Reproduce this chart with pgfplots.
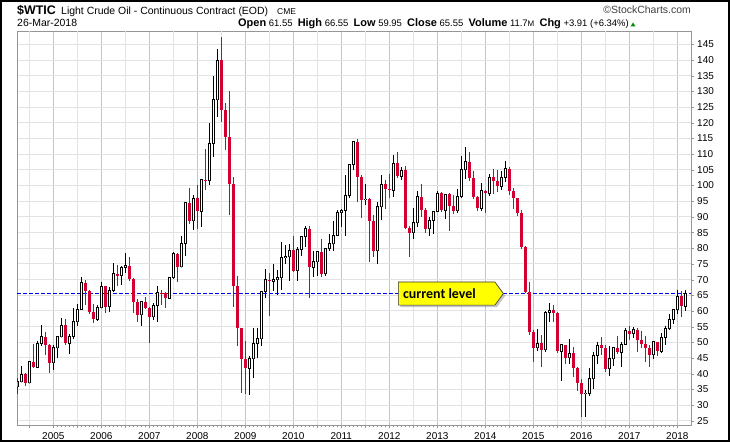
\documentclass[border=0pt]{standalone}
\usepackage{pgfplots}
\pgfplotsset{compat=1.18}
\usepackage{pgfplotstable}
\usepackage{fontspec}
\setmainfont{Liberation Sans}
\newfontfamily\calib{Carlito}
\usetikzlibrary{shadows}
\definecolor{cred}{RGB}{210,0,50}
\definecolor{gridlight}{RGB}{226,226,226}
\definecolor{griddark}{RGB}{196,196,196}
\definecolor{axisgray}{RGB}{150,150,150}
\definecolor{cyellow}{RGB}{255,255,0}
\definecolor{cgreen}{RGB}{0,140,0}
\definecolor{lvlblue}{RGB}{0,0,255}
\pgfplotsset{
  upc/.style={restrict expr to domain={\thisrow{u}}{0.5:1.5}},
  dnc/.style={restrict expr to domain={\thisrow{u}}{-0.5:0.5}},
  candle/.style={only marks, mark=*, mark size=0.01pt, mark options={draw=none, fill=none}, forget plot},
}
\pgfplotstableread{
m o h l c u
3 35.76 38.50 33.60 37.38 1
4 37.38 42.33 37.20 39.88 1
5 39.88 40.20 35.95 37.05 0
6 37.05 44.15 36.90 43.80 1
7 43.80 49.40 42.00 42.12 0
8 42.12 50.47 41.90 49.64 1
9 49.64 55.67 48.70 51.76 1
10 51.76 53.30 45.80 49.13 0
11 49.13 49.50 40.25 43.45 0
12 43.45 49.00 41.25 48.20 1
13 48.20 52.05 45.00 51.75 1
14 51.75 57.60 51.60 55.40 1
15 55.40 57.55 49.00 49.72 0
16 49.72 52.60 46.20 51.97 1
17 51.97 60.95 51.00 56.50 1
18 56.50 62.30 55.20 60.57 1
19 60.57 70.85 60.50 68.94 1
20 68.94 70.00 61.80 66.24 0
21 66.24 66.70 59.00 59.76 0
22 59.76 62.20 56.10 57.32 0
23 57.32 61.90 56.80 61.04 1
24 61.04 69.20 60.80 67.92 1
25 67.92 68.00 59.30 61.41 0
26 61.41 67.50 59.70 66.63 1
27 66.63 75.35 65.90 71.88 1
28 71.88 74.60 68.10 71.29 0
29 71.29 74.20 68.40 73.93 1
30 73.93 78.40 72.00 74.40 1
31 74.40 77.30 69.50 70.26 0
32 70.26 70.50 59.50 62.91 0
33 62.91 63.90 56.60 58.73 0
34 58.73 62.50 55.30 62.97 1
35 62.97 64.30 60.80 61.05 0
36 61.05 61.30 49.90 58.14 0
37 58.14 62.50 57.00 61.79 1
38 61.79 68.10 56.50 65.87 1
39 65.87 66.80 61.90 65.71 0
40 65.71 66.00 60.90 64.01 0
41 64.01 70.70 63.70 70.68 1
42 70.68 78.77 70.10 78.21 1
43 78.21 78.50 69.10 74.04 0
44 74.04 83.90 73.90 81.66 1
45 81.66 94.74 77.60 94.53 1
46 94.53 99.29 87.60 88.71 0
47 88.71 97.00 85.90 95.98 1
48 95.98 100.09 86.11 91.75 0
49 91.75 102.08 86.90 101.84 1
50 101.84 111.80 98.65 101.58 0
51 101.58 119.93 100.10 113.46 1
52 113.46 135.09 109.10 127.35 1
53 127.35 143.67 122.00 140.00 1
54 140.00 147.27 120.42 124.08 0
55 124.08 126.40 111.34 115.46 0
56 115.46 130.00 90.51 100.64 0
57 100.64 102.70 61.30 67.81 0
58 67.81 71.30 48.75 54.43 0
59 54.43 54.60 33.90 44.60 0
60 44.60 50.47 33.60 41.68 0
61 41.68 45.60 33.20 44.76 1
62 44.76 54.66 38.70 49.66 1
63 49.66 54.50 45.00 51.12 1
64 51.12 66.45 48.80 66.31 1
65 66.31 73.38 64.10 69.89 1
66 69.89 72.00 58.32 69.45 0
67 69.45 75.00 66.40 69.96 1
68 69.96 72.95 65.05 70.61 1
69 70.61 82.00 66.75 77.00 1
70 77.00 81.00 75.00 77.28 1
71 77.28 81.36 69.50 79.36 1
72 79.36 83.95 72.43 72.89 0
73 72.89 80.50 69.50 79.66 1
74 79.66 83.70 77.50 83.76 1
75 83.76 87.15 80.50 86.15 1
76 86.15 87.00 64.24 73.97 0
77 73.97 79.00 70.80 75.63 1
78 75.63 79.20 71.10 78.95 1
79 78.95 83.00 70.80 71.92 0
80 71.92 80.00 71.00 79.97 1
81 79.97 84.40 79.00 81.43 1
82 81.43 88.63 79.20 84.11 1
83 84.11 92.06 84.00 91.38 1
84 91.38 92.58 86.90 92.19 1
85 92.19 103.41 83.85 96.97 1
86 96.97 106.95 96.00 106.72 1
87 106.72 114.00 105.00 113.93 1
88 113.93 114.83 94.63 102.70 0
89 102.70 103.40 89.69 95.42 0
90 95.42 100.62 93.68 95.70 1
91 95.70 96.00 75.71 88.81 0
92 88.81 90.50 77.11 79.20 0
93 79.20 94.65 74.95 93.19 1
94 93.19 103.37 89.16 100.36 1
95 100.36 101.77 92.52 98.83 0
96 98.83 103.74 96.00 98.48 0
97 98.48 109.77 96.30 107.07 1
98 107.07 110.55 102.50 103.02 0
99 103.02 106.05 101.80 104.87 1
100 104.87 106.17 86.30 86.53 0
101 86.53 87.00 77.28 84.96 0
102 84.96 92.94 83.00 88.06 1
103 88.06 98.29 86.80 96.47 1
104 96.47 100.42 89.95 92.19 0
105 92.19 92.94 84.95 86.24 0
106 86.24 89.90 84.05 88.91 1
107 88.91 91.90 84.70 91.82 1
108 91.82 98.24 91.60 97.49 1
109 97.49 97.80 91.70 92.05 0
110 92.05 97.35 89.33 97.23 1
111 97.23 97.65 85.61 93.46 0
112 93.46 97.06 91.00 91.97 0
113 91.97 99.00 91.10 96.56 1
114 96.56 109.32 95.90 105.03 1
115 105.03 112.24 102.20 107.65 1
116 107.65 110.70 101.55 102.33 0
117 102.33 104.50 95.79 96.38 0
118 96.38 96.60 91.77 92.72 0
119 92.72 100.75 91.90 98.42 1
120 98.42 98.70 91.24 97.49 0
121 97.49 103.76 96.70 102.59 1
122 102.59 105.22 97.37 101.58 0
123 101.58 104.99 98.00 99.74 0
124 99.74 104.50 98.50 102.71 1
125 102.71 107.68 101.25 105.37 1
126 105.37 106.00 97.00 98.17 0
127 98.17 99.30 92.50 95.96 0
128 95.96 96.00 90.43 91.16 0
129 91.16 92.21 79.78 80.54 0
130 80.54 80.80 65.69 66.15 0
131 66.15 69.30 52.44 53.27 0
132 53.27 54.00 43.58 48.24 0
133 48.24 54.24 47.36 49.76 1
134 49.76 52.48 42.03 47.60 0
135 47.60 59.90 47.05 59.63 1
136 59.63 62.58 56.51 60.30 1
137 60.30 61.79 56.53 59.47 0
138 59.47 59.69 46.68 47.12 0
139 47.12 49.34 37.75 49.20 1
140 49.20 49.30 43.21 45.09 0
141 45.09 50.92 43.20 46.59 1
142 46.59 48.36 38.99 41.65 0
143 41.65 41.99 34.53 37.04 0
144 37.04 38.39 26.19 33.62 0
145 33.62 34.69 26.05 33.75 1
146 33.75 41.90 32.78 38.34 1
147 38.34 46.78 35.24 45.92 1
148 45.92 50.21 43.03 49.10 1
149 49.10 51.67 45.83 48.33 0
150 48.33 49.06 40.57 41.60 0
151 41.60 48.75 39.19 44.70 1
152 44.70 48.35 42.52 48.24 1
153 48.24 51.93 46.33 46.86 0
154 46.86 49.96 42.20 49.44 1
155 49.44 54.51 49.03 53.72 1
156 53.72 55.24 50.71 52.81 0
157 52.81 54.94 51.22 54.01 1
158 54.01 54.49 47.01 50.60 0
159 50.60 53.76 48.18 49.33 0
160 49.33 52.00 43.76 48.32 0
161 48.32 48.99 42.05 46.04 0
162 46.04 50.43 44.68 50.17 1
163 50.17 50.22 45.58 47.23 0
164 47.23 52.86 46.46 51.67 1
165 51.67 55.22 49.10 54.38 1
166 54.38 59.05 53.90 57.40 1
167 57.40 60.51 55.82 60.42 1
168 60.42 66.66 59.08 64.73 1
169 64.73 66.30 58.07 61.64 0
170 61.55 66.55 59.95 65.55 1
}\wtic
\begin{document}
\begin{tikzpicture}[x=1bp,y=1bp]
\useasboundingbox (0,0) rectangle (730,442);
\fill[white] (0,0) rectangle (730,442);
% header
\node[anchor=base west, inner sep=0] at (17,427) {\fontsize{12.5}{14}\selectfont\bfseries \$WTIC};
\node[anchor=base west, inner sep=0] at (61,427) {\fontsize{10.5}{12}\selectfont Light Crude Oil - Continuous Contract (EOD)};
\node[anchor=base west, inner sep=0] at (277,427) {\fontsize{8.5}{10}\selectfont CME};
\node[anchor=base east, inner sep=0, text=black!75] at (691,428) {\fontsize{10.5}{12}\selectfont ©StockCharts.com};
\node[anchor=base west, inner sep=0] at (17,415) {\fontsize{10.5}{12}\selectfont 26-Mar-2018};
\node[anchor=base east, inner sep=0] at (629,415) {\fontsize{9.5}{11}\selectfont
  {\fontsize{11}{12}\selectfont\bfseries Open} 61.55\ \ {\fontsize{11}{12}\selectfont\bfseries High} 66.55\ \ {\fontsize{11}{12}\selectfont\bfseries Low} 59.95\ \ {\fontsize{11}{12}\selectfont\bfseries Close} 65.55\ \ {\fontsize{11}{12}\selectfont\bfseries Volume} 11.7{\fontsize{8}{10}\selectfont M}\ \ {\fontsize{11}{12}\selectfont\bfseries Chg} +3.91 (+6.34\%)};
\fill[cgreen] (630.5,415.5) -- (635.5,415.5) -- (633,419.5) -- cycle;
\begin{axis}[
  at={(17.3bp,16.5bp)}, anchor=south west,
  scale only axis, width=673.4bp, height=394.5bp,
  xmin=3, xmax=171.35, ymin=23.47, ymax=149.3,
  axis line style={axisgray},
  tick style={axisgray},
  tick align=outside,
  xtick pos=bottom, ytick pos=right,
  yticklabel pos=right,
  xtick={12,24,36,48,60,72,84,96,108,120,132,144,156,168},
  xticklabels={2005,2006,2007,2008,2009,2010,2011,2012,2013,2014,2015,2016,2017,2018},
  minor x tick num=11,
  major tick length=3bp, minor tick length=2bp,
  extra x ticks={6,18,30,42,54,66,78,90,102,114,126,138,150,162},
  extra x tick labels={},
  extra x tick style={grid=major, major grid style={gridlight, line width=1bp}},
  ytick={25,30,...,145},
  xmajorgrids, ymajorgrids,
  major grid style={griddark, line width=1bp},
  y grid style={gridlight, line width=1bp},
  extra y ticks={65.55},
  extra y tick labels={},
  extra y tick style={ymajorgrids=true, major tick length=0pt,
     y grid style={lvlblue, solid, line width=1.1bp, dash pattern=on 4bp off 2bp},
     major grid style={lvlblue, solid, line width=1.1bp, dash pattern=on 4bp off 2bp}},
  ticklabel style={font=\fontsize{10}{12}\selectfont, text=black},
  /pgf/number format/assume math mode=true,
  xticklabel style={yshift=-1bp},
]
% wicks, up candles
\addplot[black, candle, upc,
  error bars/.cd, y dir=both, y explicit, error mark=none,
  error bar style={draw=black, solid, line width=1bp}]
  table[x=m, y=c, y error plus expr=\thisrow{h}-\thisrow{c}, y error minus expr=\thisrow{c}-\thisrow{l}] {\wtic};
% wicks, down candles
\addplot[cred, candle, dnc,
  error bars/.cd, y dir=both, y explicit, error mark=none,
  error bar style={draw=cred, solid, line width=1bp}]
  table[x=m, y=c, y error plus expr=\thisrow{h}-\thisrow{c}, y error minus expr=\thisrow{c}-\thisrow{l}] {\wtic};
% bodies, down candles
\addplot[cred, candle, dnc,
  error bars/.cd, y dir=plus, y explicit, error mark=none,
  error bar style={draw=cred, solid, line width=3.3bp}]
  table[x=m, y=c, y error plus expr=\thisrow{o}-\thisrow{c}] {\wtic};
% bodies, up candles: outline
\addplot[black, candle, upc,
  error bars/.cd, y dir=plus, y explicit, error mark=none,
  error bar style={draw=black, solid, line width=3.6bp}]
  table[x=m, y expr=\thisrow{o}-0.16, y error plus expr=\thisrow{c}-\thisrow{o}+0.32] {\wtic};
% bodies, up candles: inner
\addplot[white, candle, upc,
  error bars/.cd, y dir=plus, y explicit, error mark=none,
  error bar style={draw=white, solid, line width=1.6bp}]
  table[x=m, y expr=\thisrow{o}+0.16, y error plus expr=\thisrow{c}-\thisrow{o}-0.32] {\wtic};
% callout
\draw[fill=cyellow, draw=black!80, line width=0.6bp,
  drop shadow={shadow xshift=2bp, shadow yshift=-2bp, fill=black!45, opacity=0.5}]
  (axis cs:98.25,69.25) -- (axis cs:122.4,69.25) -- (axis cs:124.5,65.55) -- (axis cs:122.4,61.85) -- (axis cs:98.25,61.85) -- cycle;
\node[anchor=west, inner sep=0] at (axis cs:99.4,65.45) {\calib\fontsize{14}{16}\selectfont\bfseries current level};
\end{axis}
\draw[black, line width=2bp] (1,1) rectangle (729,441);
\end{tikzpicture}
\end{document}
